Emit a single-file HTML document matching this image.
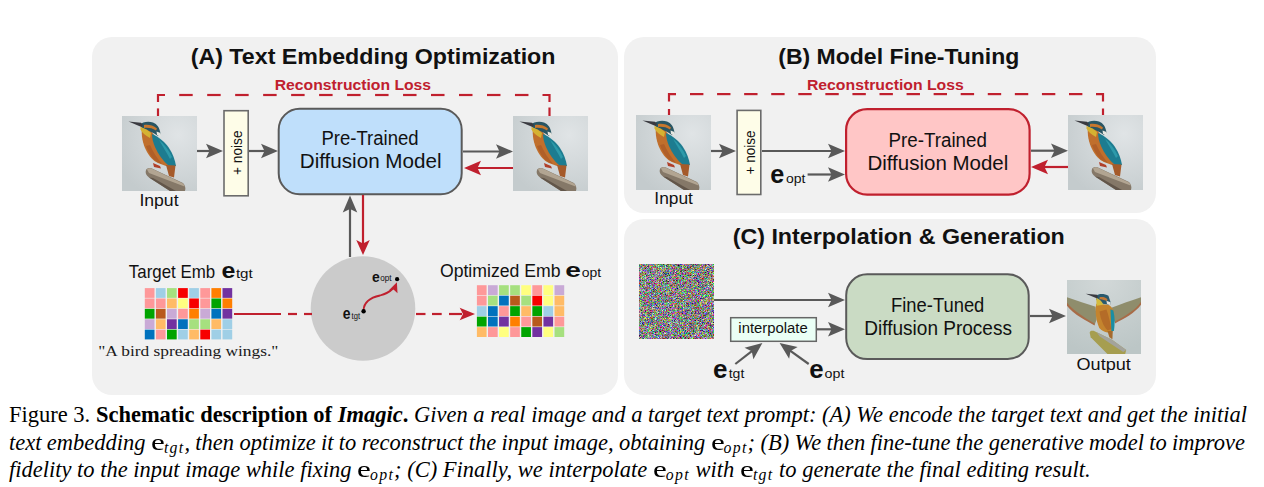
<!DOCTYPE html><html><head><meta charset='utf-8'><style>html,body{margin:0;padding:0;background:#fff;width:1264px;height:487px;overflow:hidden}svg{display:block}.m{display:inline-block;transform:scaleX(1.38);transform-origin:0 0;margin-right:3px}.s{font-size:15.75px;letter-spacing:1.3px;position:relative;top:3px}</style></head><body>
<svg width='1264' height='487' viewBox='0 0 1264 487'>
<defs>
<radialGradient id='bgsit' cx='0.75' cy='0.25' r='0.9'><stop offset='0' stop-color='#e0e4e6'/><stop offset='1' stop-color='#c4cbcd'/></radialGradient>
<radialGradient id='bgfly' cx='0.5' cy='0.0' r='1'><stop offset='0' stop-color='#d2d8d8'/><stop offset='1' stop-color='#bcc6c6'/></radialGradient>
<filter id='nz' x='0' y='0' width='100%' height='100%' filterUnits='objectBoundingBox' color-interpolation-filters='sRGB'><feTurbulence type='fractalNoise' baseFrequency='1.6' numOctaves='1' seed='7' result='t'/><feComponentTransfer><feFuncR type='linear' slope='2.1' intercept='-0.53'/><feFuncG type='linear' slope='2.1' intercept='-0.53'/><feFuncB type='linear' slope='2.1' intercept='-0.53'/><feFuncA type='linear' slope='0' intercept='1'/></feComponentTransfer></filter>

<symbol id='birdsit' viewBox='0 0 75 75'>
 <rect width='75' height='75' fill='url(#bgsit)'/>
 <path d='M24,54 C25,52 28,51.5 30,52.5 L61,67 C63,69 64,72 63,75 L48,75 L27,61.5 C24,59.5 23,56.5 24,54 Z' fill='#857868'/>
 <path d='M25,53.5 C26,52.3 28,52 30,52.8 L61,67.5 C62,68.5 62.5,69.5 62.5,70.5 L27,57 Z' fill='#b2a592'/>
 <path d='M48,75 L27,61.5 L31,62 L54,75 Z' fill='#62564a'/>
 <path d='M20,12 C19,20 21,28 24,34 C27,40 31,45 36,47 L44,50 L50,50 L46,42 C42,34 37,26 33,20 L28,14 Z' fill='#c06f2c'/>
 <path d='M24,30 C27,38 31,44 36,46.5 L40,48 C35,42 31,36 28,29 Z' fill='#b05f28'/>
 <path d='M30,18 C37,21 43,26 47,32 C51,38 53,44 54,50 L47,50 C41,45 36,38 33,31 C31,26 30,22 30,18 Z' fill='#1d7c90'/>
 <path d='M37,24 C42,28 47,34 50,41 L48,43 C45,37 41,31 37,24 Z' fill='#2d9aaa'/>
 <path d='M44,49 L53.5,49.5 L52,61.5 L47,60 Z' fill='#a55a2a'/>
 <path d='M31,47 L38,50 L39,52.5 L32,51 Z' fill='#b0402a'/>
 <path d='M18,9 C20,6 26,5 31,6.5 C35,8 38,12 38.5,18 L36,20 C32,17 26,14 20,12 Z' fill='#2a5663'/>
 <path d='M22,9 C26,8.5 31,9 35,12.5 L34,14.5 C30,12 26,11.5 22,12 Z' fill='#c8782e'/>
 <path d='M18.5,11 C22,12 26,14 29,17 L28,22 C24,20 20,17 18.5,13.5 Z' fill='#d5b232'/>
 <path d='M34.6,15.4 L38.5,17 L38.5,20.8 L35,19 Z' fill='#e6e6e0'/>
 <path d='M6.5,5.5 L19,6.8 L21,9 L19.5,11 Z' fill='#3a3a40'/>
</symbol>

<symbol id='birdfly' viewBox='0 0 75 75'>
 <rect width='75' height='75' fill='url(#bgfly)'/>
 <path d='M23,53.5 C23,51.5 25,51 27,51.5 L45.6,60.5 L60,71 L59,75 L41,75 L24,58 Z' fill='#a69e50'/>
 <path d='M30,53 L45.6,60.5 L60,71 L57,73 L42,63 L33,57 Z' fill='#a3a39c'/>
 <path d='M29,27 C20,24.5 10,21 0,17.5 L0,25 C4,29 9,33 15,37 C20,40.5 24,43 28,45.5 L30,40 Z' fill='#8f8d6c'/>
 <path d='M0,23 C4,28 9,32 15,36 C20,39.5 24,42 28,44 L28,46 C24,44 19,41 14,38 C8,34 3,30 0,26 Z' fill='#a86c48'/>
 <path d='M45,28 C54,25 64,21 75,17.5 L75,24 C72,28 68,31 63,34.5 C58,38 53,40.5 48.6,43 L46,38 Z' fill='#8f8d6c'/>
 <path d='M75,22 C72,27 68,30 63,33.5 C58,37 53,40 48.6,42 L48.6,44 C53,41.5 58,39 63,36 C68,32.5 72,29 75,25 Z' fill='#a86c48'/>
 <path d='M29.6,24 C28.5,32 29,40 32.7,48.6 C35,51 38,53 41,53.2 L46.4,51.7 C48,46 48,38 47,31 C46,28 44,26 42,25 Z' fill='#c4842e'/>
 <path d='M33,32 C34,40 37,47 41,51 L45,50 C44,43 42,36 40,30 Z' fill='#b46c28'/>
 <path d='M44,29.6 L47,31 C48.6,38 48.6,45 47.5,51.7 L45,51.7 Z' fill='#1a8ea4'/>
 <path d='M41,51.7 L46.4,51.7 L46,60 L43,58 Z' fill='#a56a2c'/>
 <path d='M29.6,16 C32,13.7 38,13.7 42,16 L44,22 L44,25 L36,24 L29.6,20 Z' fill='#2a5a6e'/>
 <path d='M33,17.5 C36,17 39,17.5 41,19.5 L40.5,21.3 C37,20 35,19.5 33,19.5 Z' fill='#c07838'/>
 <path d='M29.6,18 C32,19 35,21 37,25 L30,26 Z' fill='#d4bb3e'/>
 <path d='M40,21 L44,22.5 L44,25.5 L40.5,24 Z' fill='#e8e4dc'/>
 <path d='M19,14 L30.4,15 L31.5,17.5 L30,18.5 Z' fill='#3a3a40'/>
</symbol>
</defs>
<rect x='92' y='37' width='526' height='358' rx='20' fill='#f1f1f1'/>
<rect x='624' y='37' width='532' height='176' rx='20' fill='#f1f1f1'/>
<rect x='624' y='219' width='532' height='176' rx='20' fill='#f1f1f1'/>
<text x='190.65' y='64.00' font-family='Liberation Sans' font-weight='bold' font-style='normal' font-size='22.2' fill='#111' textLength='364.84' lengthAdjust='spacingAndGlyphs'>(A) Text Embedding Optimization</text>
<text x='778.26' y='63.70' font-family='Liberation Sans' font-weight='bold' font-style='normal' font-size='22.2' fill='#111' textLength='241.11' lengthAdjust='spacingAndGlyphs'>(B) Model Fine-Tuning</text>
<text x='732.65' y='244.20' font-family='Liberation Sans' font-weight='bold' font-style='normal' font-size='22.2' fill='#111' textLength='332.18' lengthAdjust='spacingAndGlyphs'>(C) Interpolation &amp; Generation</text>
<text x='274.77' y='89.70' font-family='Liberation Sans' font-weight='bold' font-style='normal' font-size='15.2' fill='#c0202e' textLength='156.30' lengthAdjust='spacingAndGlyphs'>Reconstruction Loss</text>
<text x='806.96' y='89.80' font-family='Liberation Sans' font-weight='bold' font-style='normal' font-size='15.2' fill='#c0202e' textLength='156.80' lengthAdjust='spacingAndGlyphs'>Reconstruction Loss</text>
<path d='M158,102 V95 H165' fill='none' stroke='#c0202e' stroke-width='2.2'/>
<line x1='158' y1='108.4' x2='158' y2='116' stroke='#c0202e' stroke-width='2.2'/>
<line x1='179.20' y1='95' x2='192.70' y2='95' stroke='#c0202e' stroke-width='2.2'/><line x1='207.18' y1='95' x2='220.68' y2='95' stroke='#c0202e' stroke-width='2.2'/><line x1='235.16' y1='95' x2='248.66' y2='95' stroke='#c0202e' stroke-width='2.2'/><line x1='263.14' y1='95' x2='276.64' y2='95' stroke='#c0202e' stroke-width='2.2'/><line x1='291.12' y1='95' x2='304.62' y2='95' stroke='#c0202e' stroke-width='2.2'/><line x1='319.10' y1='95' x2='332.60' y2='95' stroke='#c0202e' stroke-width='2.2'/><line x1='347.08' y1='95' x2='360.58' y2='95' stroke='#c0202e' stroke-width='2.2'/><line x1='375.06' y1='95' x2='388.56' y2='95' stroke='#c0202e' stroke-width='2.2'/><line x1='403.04' y1='95' x2='416.54' y2='95' stroke='#c0202e' stroke-width='2.2'/><line x1='431.02' y1='95' x2='444.52' y2='95' stroke='#c0202e' stroke-width='2.2'/><line x1='459.00' y1='95' x2='472.50' y2='95' stroke='#c0202e' stroke-width='2.2'/><line x1='486.98' y1='95' x2='500.48' y2='95' stroke='#c0202e' stroke-width='2.2'/><line x1='514.96' y1='95' x2='528.46' y2='95' stroke='#c0202e' stroke-width='2.2'/>
<path d='M542.5,95 H549.5 V102' fill='none' stroke='#c0202e' stroke-width='2.2'/>
<line x1='549.5' y1='107.5' x2='549.5' y2='116' stroke='#c0202e' stroke-width='2.2'/>
<path d='M669,101.5 V94.1 H676' fill='none' stroke='#c0202e' stroke-width='2.2'/>
<line x1='669' y1='109' x2='669' y2='115' stroke='#c0202e' stroke-width='2.2'/>
<line x1='690.00' y1='94.1' x2='703.40' y2='94.1' stroke='#c0202e' stroke-width='2.2'/><line x1='717.07' y1='94.1' x2='730.47' y2='94.1' stroke='#c0202e' stroke-width='2.2'/><line x1='744.14' y1='94.1' x2='757.54' y2='94.1' stroke='#c0202e' stroke-width='2.2'/><line x1='771.21' y1='94.1' x2='784.61' y2='94.1' stroke='#c0202e' stroke-width='2.2'/><line x1='798.28' y1='94.1' x2='811.68' y2='94.1' stroke='#c0202e' stroke-width='2.2'/><line x1='825.35' y1='94.1' x2='838.75' y2='94.1' stroke='#c0202e' stroke-width='2.2'/><line x1='852.42' y1='94.1' x2='865.82' y2='94.1' stroke='#c0202e' stroke-width='2.2'/><line x1='879.49' y1='94.1' x2='892.89' y2='94.1' stroke='#c0202e' stroke-width='2.2'/><line x1='906.56' y1='94.1' x2='919.96' y2='94.1' stroke='#c0202e' stroke-width='2.2'/><line x1='933.63' y1='94.1' x2='947.03' y2='94.1' stroke='#c0202e' stroke-width='2.2'/><line x1='960.70' y1='94.1' x2='974.10' y2='94.1' stroke='#c0202e' stroke-width='2.2'/><line x1='987.77' y1='94.1' x2='1001.17' y2='94.1' stroke='#c0202e' stroke-width='2.2'/><line x1='1014.84' y1='94.1' x2='1028.24' y2='94.1' stroke='#c0202e' stroke-width='2.2'/><line x1='1041.91' y1='94.1' x2='1055.31' y2='94.1' stroke='#c0202e' stroke-width='2.2'/><line x1='1068.98' y1='94.1' x2='1082.38' y2='94.1' stroke='#c0202e' stroke-width='2.2'/>
<path d='M1096,94.1 H1103 V101.5' fill='none' stroke='#c0202e' stroke-width='2.2'/>
<line x1='1103' y1='108.5' x2='1103' y2='115' stroke='#c0202e' stroke-width='2.2'/>
<use href='#birdsit' x='122' y='116' width='75' height='75'/>
<use href='#birdsit' x='513' y='116' width='75' height='75'/>
<use href='#birdsit' x='636' y='115' width='75' height='75'/>
<use href='#birdsit' x='1068' y='115' width='75' height='75'/>
<use href='#birdfly' x='1067' y='280' width='74' height='74'/>
<rect x='639' y='264' width='75' height='75' fill='#888' filter='url(#nz)'/>
<rect x='224' y='110.7' width='24.2' height='85.1' fill='#fefde8' stroke='#6b6b6b' stroke-width='1.6'/>
<rect x='737.1' y='110.4' width='23.7' height='84.1' fill='#fefde8' stroke='#6b6b6b' stroke-width='1.6'/>
<text transform='translate(241.5,175) rotate(-90)' font-family='Liberation Sans' font-size='14.5' fill='#111' textLength='44.5' lengthAdjust='spacingAndGlyphs'>+ noise</text>
<text transform='translate(754.5,174.5) rotate(-90)' font-family='Liberation Sans' font-size='14.5' fill='#111' textLength='44' lengthAdjust='spacingAndGlyphs'>+ noise</text>
<rect x='278.7' y='108.7' width='183' height='85.6' rx='21' fill='#bfdffb' stroke='#5a5a5a' stroke-width='2'/>
<rect x='846.1' y='109.1' width='183.5' height='85.6' rx='21' fill='#ffc6c6' stroke='#c0202e' stroke-width='2.2'/>
<rect x='846.2' y='274.3' width='182.5' height='84.8' rx='21' fill='#cadbc4' stroke='#5a5a5a' stroke-width='2'/>
<rect x='730.7' y='317.7' width='85.6' height='23.6' fill='#eafff5' stroke='#666' stroke-width='1.5'/>
<text x='321.47' y='144.80' font-family='Liberation Sans' font-weight='normal' font-style='normal' font-size='20.0' fill='#111' textLength='97.12' lengthAdjust='spacingAndGlyphs'>Pre-Trained</text>
<text x='299.77' y='167.80' font-family='Liberation Sans' font-weight='normal' font-style='normal' font-size='20.0' fill='#111' textLength='141.76' lengthAdjust='spacingAndGlyphs'>Diffusion Model</text>
<text x='888.54' y='146.90' font-family='Liberation Sans' font-weight='normal' font-style='normal' font-size='19.5' fill='#111' textLength='98.35' lengthAdjust='spacingAndGlyphs'>Pre-Trained</text>
<text x='867.45' y='170.40' font-family='Liberation Sans' font-weight='normal' font-style='normal' font-size='19.5' fill='#111' textLength='140.85' lengthAdjust='spacingAndGlyphs'>Diffusion Model</text>
<text x='891.06' y='311.90' font-family='Liberation Sans' font-weight='normal' font-style='normal' font-size='19.5' fill='#111' textLength='93.28' lengthAdjust='spacingAndGlyphs'>Fine-Tuned</text>
<text x='864.32' y='335.20' font-family='Liberation Sans' font-weight='normal' font-style='normal' font-size='19.5' fill='#111' textLength='147.64' lengthAdjust='spacingAndGlyphs'>Diffusion Process</text>
<text x='139.40' y='206.00' font-family='Liberation Sans' font-weight='normal' font-style='normal' font-size='16.0' fill='#111' textLength='39.15' lengthAdjust='spacingAndGlyphs'>Input</text>
<text x='654.32' y='204.40' font-family='Liberation Sans' font-weight='normal' font-style='normal' font-size='16.0' fill='#111' textLength='38.54' lengthAdjust='spacingAndGlyphs'>Input</text>
<text x='1076.54' y='369.60' font-family='Liberation Sans' font-weight='normal' font-style='normal' font-size='17.0' fill='#111' textLength='54.31' lengthAdjust='spacingAndGlyphs'>Output</text>
<text x='738.34' y='333.40' font-family='Liberation Sans' font-weight='normal' font-style='normal' font-size='14.0' fill='#111' textLength='69.38' lengthAdjust='spacingAndGlyphs'>interpolate</text>
<text x='128.80' y='278.00' font-family='Liberation Sans' font-weight='normal' font-style='normal' font-size='19.0' fill='#111' textLength='86.34' lengthAdjust='spacingAndGlyphs'>Target Emb</text>
<text x='439.92' y='276.60' font-family='Liberation Sans' font-weight='normal' font-style='normal' font-size='18.0' fill='#111' textLength='120.61' lengthAdjust='spacingAndGlyphs'>Optimized Emb</text>
<text x='221.49' y='278.00' font-family='Liberation Sans' font-weight='bold' font-style='normal' font-size='22.5' fill='#111' textLength='13.88' lengthAdjust='spacingAndGlyphs'>e</text>
<text x='235.90' y='278.00' font-family='Liberation Sans' font-weight='normal' font-style='normal' font-size='13.0' fill='#111' textLength='16.85' lengthAdjust='spacingAndGlyphs'>tgt</text>
<text x='565.26' y='276.60' font-family='Liberation Sans' font-weight='bold' font-style='normal' font-size='21.0' fill='#111' textLength='15.66' lengthAdjust='spacingAndGlyphs'>e</text>
<text x='581.70' y='276.60' font-family='Liberation Sans' font-weight='normal' font-style='normal' font-size='13.0' fill='#111' textLength='19.38' lengthAdjust='spacingAndGlyphs'>opt</text>
<text x='98.24' y='355.60' font-family='Liberation Serif' font-weight='normal' font-style='normal' font-size='15.0' fill='#1a1a1a' textLength='180.13' lengthAdjust='spacingAndGlyphs'>"A bird spreading wings."</text>
<line x1='197.00' y1='151.00' x2='210.50' y2='151.00' stroke='#595959' stroke-width='2.2'/><path d='M223.00,151.00 L206.00,158.25 L209.50,151.00 L206.00,143.75 Z' fill='#595959'/>
<line x1='249.00' y1='151.00' x2='265.50' y2='151.00' stroke='#595959' stroke-width='2.2'/><path d='M278.00,151.00 L261.00,158.25 L264.50,151.00 L261.00,143.75 Z' fill='#595959'/>
<line x1='463.00' y1='151.50' x2='500.50' y2='151.50' stroke='#595959' stroke-width='2.2'/><path d='M513.00,151.50 L496.00,158.75 L499.50,151.50 L496.00,144.25 Z' fill='#595959'/>
<line x1='513.00' y1='168.00' x2='476.50' y2='168.00' stroke='#c0202e' stroke-width='2.2'/><path d='M464.00,168.00 L481.00,160.75 L477.50,168.00 L481.00,175.25 Z' fill='#c0202e'/>
<line x1='350.00' y1='257.00' x2='350.00' y2='207.90' stroke='#595959' stroke-width='2.2'/><path d='M350.00,195.40 L357.25,212.40 L350.00,208.90 L342.75,212.40 Z' fill='#595959'/>
<line x1='363.00' y1='195.00' x2='363.00' y2='244.50' stroke='#c0202e' stroke-width='2.2'/><path d='M363.00,255.00 L356.25,240.00 L363.00,243.50 L369.75,240.00 Z' fill='#c0202e'/>
<rect x='144.80' y='288.10' width='9.70' height='9.78' fill='#fe9899'/><rect x='155.90' y='288.10' width='9.70' height='9.78' fill='#9fcfe6'/><rect x='167.00' y='288.10' width='9.70' height='9.78' fill='#a6e07f'/><rect x='178.10' y='288.10' width='9.70' height='9.78' fill='#f70000'/><rect x='189.20' y='288.10' width='9.70' height='9.78' fill='#9fcfe6'/><rect x='200.30' y='288.10' width='9.70' height='9.78' fill='#fe9899'/><rect x='211.40' y='288.10' width='9.70' height='9.78' fill='#ff7f00'/><rect x='222.50' y='288.10' width='9.70' height='9.78' fill='#7232a0'/><rect x='144.80' y='298.48' width='9.70' height='9.78' fill='#fe9899'/><rect x='155.90' y='298.48' width='9.70' height='9.78' fill='#fe9899'/><rect x='167.00' y='298.48' width='9.70' height='9.78' fill='#ffbb66'/><rect x='178.10' y='298.48' width='9.70' height='9.78' fill='#ffff80'/><rect x='189.20' y='298.48' width='9.70' height='9.78' fill='#f70000'/><rect x='200.30' y='298.48' width='9.70' height='9.78' fill='#fe9899'/><rect x='211.40' y='298.48' width='9.70' height='9.78' fill='#00a400'/><rect x='222.50' y='298.48' width='9.70' height='9.78' fill='#ff7f00'/><rect x='144.80' y='308.86' width='9.70' height='9.78' fill='#00a400'/><rect x='155.90' y='308.86' width='9.70' height='9.78' fill='#b85a1c'/><rect x='167.00' y='308.86' width='9.70' height='9.78' fill='#c9aad6'/><rect x='178.10' y='308.86' width='9.70' height='9.78' fill='#fe9899'/><rect x='189.20' y='308.86' width='9.70' height='9.78' fill='#ff7f00'/><rect x='200.30' y='308.86' width='9.70' height='9.78' fill='#c9aad6'/><rect x='211.40' y='308.86' width='9.70' height='9.78' fill='#0172bd'/><rect x='222.50' y='308.86' width='9.70' height='9.78' fill='#7232a0'/><rect x='144.80' y='319.24' width='9.70' height='9.78' fill='#c9aad6'/><rect x='155.90' y='319.24' width='9.70' height='9.78' fill='#ffbb66'/><rect x='167.00' y='319.24' width='9.70' height='9.78' fill='#7232a0'/><rect x='178.10' y='319.24' width='9.70' height='9.78' fill='#0172bd'/><rect x='189.20' y='319.24' width='9.70' height='9.78' fill='#a6e07f'/><rect x='200.30' y='319.24' width='9.70' height='9.78' fill='#a6e07f'/><rect x='211.40' y='319.24' width='9.70' height='9.78' fill='#ffbb66'/><rect x='222.50' y='319.24' width='9.70' height='9.78' fill='#9fcfe6'/><rect x='144.80' y='329.62' width='9.70' height='9.78' fill='#0172bd'/><rect x='155.90' y='329.62' width='9.70' height='9.78' fill='#fe9899'/><rect x='167.00' y='329.62' width='9.70' height='9.78' fill='#00a400'/><rect x='178.10' y='329.62' width='9.70' height='9.78' fill='#9fcfe6'/><rect x='189.20' y='329.62' width='9.70' height='9.78' fill='#ffbb66'/><rect x='200.30' y='329.62' width='9.70' height='9.78' fill='#f70000'/><rect x='211.40' y='329.62' width='9.70' height='9.78' fill='#9fcfe6'/><rect x='222.50' y='329.62' width='9.70' height='9.78' fill='#9fcfe6'/>
<rect x='476.90' y='285.20' width='9.69' height='9.88' fill='#fe9899'/><rect x='487.99' y='285.20' width='9.69' height='9.88' fill='#c9aad6'/><rect x='499.08' y='285.20' width='9.69' height='9.88' fill='#a6e07f'/><rect x='510.16' y='285.20' width='9.69' height='9.88' fill='#a6e07f'/><rect x='521.25' y='285.20' width='9.69' height='9.88' fill='#ffff80'/><rect x='532.34' y='285.20' width='9.69' height='9.88' fill='#fe9899'/><rect x='543.43' y='285.20' width='9.69' height='9.88' fill='#ffff80'/><rect x='554.51' y='285.20' width='9.69' height='9.88' fill='#c9aad6'/><rect x='476.90' y='295.68' width='9.69' height='9.88' fill='#fe9899'/><rect x='487.99' y='295.68' width='9.69' height='9.88' fill='#a6e07f'/><rect x='499.08' y='295.68' width='9.69' height='9.88' fill='#0172bd'/><rect x='510.16' y='295.68' width='9.69' height='9.88' fill='#b85a1c'/><rect x='521.25' y='295.68' width='9.69' height='9.88' fill='#a6e07f'/><rect x='532.34' y='295.68' width='9.69' height='9.88' fill='#f70000'/><rect x='543.43' y='295.68' width='9.69' height='9.88' fill='#ffff80'/><rect x='554.51' y='295.68' width='9.69' height='9.88' fill='#ffbb66'/><rect x='476.90' y='306.16' width='9.69' height='9.88' fill='#9fcfe6'/><rect x='487.99' y='306.16' width='9.69' height='9.88' fill='#0172bd'/><rect x='499.08' y='306.16' width='9.69' height='9.88' fill='#fe9899'/><rect x='510.16' y='306.16' width='9.69' height='9.88' fill='#00a400'/><rect x='521.25' y='306.16' width='9.69' height='9.88' fill='#ffbb66'/><rect x='532.34' y='306.16' width='9.69' height='9.88' fill='#00a400'/><rect x='543.43' y='306.16' width='9.69' height='9.88' fill='#9fcfe6'/><rect x='554.51' y='306.16' width='9.69' height='9.88' fill='#ffbb66'/><rect x='476.90' y='316.64' width='9.69' height='9.88' fill='#00a400'/><rect x='487.99' y='316.64' width='9.69' height='9.88' fill='#0172bd'/><rect x='499.08' y='316.64' width='9.69' height='9.88' fill='#7232a0'/><rect x='510.16' y='316.64' width='9.69' height='9.88' fill='#ff7f00'/><rect x='521.25' y='316.64' width='9.69' height='9.88' fill='#fe9899'/><rect x='532.34' y='316.64' width='9.69' height='9.88' fill='#b85a1c'/><rect x='543.43' y='316.64' width='9.69' height='9.88' fill='#7232a0'/><rect x='554.51' y='316.64' width='9.69' height='9.88' fill='#fe9899'/><rect x='476.90' y='327.12' width='9.69' height='9.88' fill='#ffbb66'/><rect x='487.99' y='327.12' width='9.69' height='9.88' fill='#fe9899'/><rect x='499.08' y='327.12' width='9.69' height='9.88' fill='#ffff80'/><rect x='510.16' y='327.12' width='9.69' height='9.88' fill='#fe9899'/><rect x='521.25' y='327.12' width='9.69' height='9.88' fill='#00a400'/><rect x='532.34' y='327.12' width='9.69' height='9.88' fill='#7232a0'/><rect x='543.43' y='327.12' width='9.69' height='9.88' fill='#ffff80'/><rect x='554.51' y='327.12' width='9.69' height='9.88' fill='#a6e07f'/>
<line x1='234' y1='314' x2='281' y2='314' stroke='#c0202e' stroke-width='2.2'/>
<line x1='288' y1='314' x2='297' y2='314' stroke='#c0202e' stroke-width='2.2'/>
<circle cx='363' cy='308.5' r='52.3' fill='#cbcbcb'/>
<line x1='304' y1='314' x2='312' y2='314' stroke='#c0202e' stroke-width='2.2'/>
<line x1='416' y1='314' x2='425.5' y2='314' stroke='#c0202e' stroke-width='2.2'/>
<line x1='432' y1='314' x2='441.7' y2='314' stroke='#c0202e' stroke-width='2.2'/>
<line x1='449' y1='314' x2='462' y2='314' stroke='#c0202e' stroke-width='2.2'/>
<path d='M475,314 L459.7,307.7 L463,314 L459.7,320.3 Z' fill='#c0202e'/>
<path d='M363.6,310 C364,301 371,297.5 380,295.5 C386,294 390,291.5 393,288.5' fill='none' stroke='#c0202e' stroke-width='1.8'/>
<path d='M396.9,282.2 L388.9,290.2 L393.5,289.6 L397.5,293.3 Z' fill='#c0202e'/>
<circle cx='397.1' cy='279.2' r='2.1' fill='#000'/>
<circle cx='363.6' cy='311.2' r='2.2' fill='#000'/>
<line x1='711.00' y1='151.00' x2='723.50' y2='151.00' stroke='#595959' stroke-width='2.2'/><path d='M736.00,151.00 L719.00,158.25 L722.50,151.00 L719.00,143.75 Z' fill='#595959'/>
<line x1='762.00' y1='151.00' x2='832.50' y2='151.00' stroke='#595959' stroke-width='2.2'/><path d='M845.00,151.00 L828.00,158.25 L831.50,151.00 L828.00,143.75 Z' fill='#595959'/>
<line x1='807.60' y1='174.50' x2='832.50' y2='174.50' stroke='#595959' stroke-width='2.2'/><path d='M845.00,174.50 L828.00,181.75 L831.50,174.50 L828.00,167.25 Z' fill='#595959'/>
<line x1='1031.00' y1='150.70' x2='1055.50' y2='150.70' stroke='#595959' stroke-width='2.2'/><path d='M1068.00,150.70 L1051.00,157.95 L1054.50,150.70 L1051.00,143.45 Z' fill='#595959'/>
<line x1='1068.00' y1='167.00' x2='1043.50' y2='167.00' stroke='#c0202e' stroke-width='2.2'/><path d='M1031.00,167.00 L1048.00,159.75 L1044.50,167.00 L1048.00,174.25 Z' fill='#c0202e'/>
<line x1='714.00' y1='300.00' x2='832.50' y2='300.00' stroke='#595959' stroke-width='2.2'/><path d='M845.00,300.00 L828.00,307.25 L831.50,300.00 L828.00,292.75 Z' fill='#595959'/>
<line x1='817.00' y1='329.30' x2='832.50' y2='329.30' stroke='#595959' stroke-width='2.2'/><path d='M845.00,329.30 L828.00,336.55 L831.50,329.30 L828.00,322.05 Z' fill='#595959'/>
<line x1='1030.00' y1='316.00' x2='1053.50' y2='316.00' stroke='#595959' stroke-width='2.2'/><path d='M1066.00,316.00 L1049.00,323.25 L1052.50,316.00 L1049.00,308.75 Z' fill='#595959'/>
<line x1='735.30' y1='364.00' x2='752.52' y2='350.66' stroke='#595959' stroke-width='2.2'/><path d='M762.40,343.00 L753.40,359.14 L751.73,351.27 L744.52,347.68 Z' fill='#595959'/>
<line x1='808.70' y1='364.00' x2='789.74' y2='350.31' stroke='#595959' stroke-width='2.2'/><path d='M779.60,343.00 L797.63,347.07 L790.55,350.90 L789.14,358.83 Z' fill='#595959'/>
<text x='770.23' y='182.60' font-family='Liberation Sans' font-weight='bold' font-style='normal' font-size='26' fill='#111' textLength='14.02' lengthAdjust='spacingAndGlyphs'>e</text>
<text x='785.90' y='182.50' font-family='Liberation Sans' font-weight='normal' font-style='normal' font-size='13' fill='#111' textLength='19.48' lengthAdjust='spacingAndGlyphs'>opt</text>
<text x='712.90' y='378.00' font-family='Liberation Sans' font-weight='bold' font-style='normal' font-size='26' fill='#111' textLength='14.47' lengthAdjust='spacingAndGlyphs'>e</text>
<text x='728.70' y='377.80' font-family='Liberation Sans' font-weight='normal' font-style='normal' font-size='13' fill='#111' textLength='15.61' lengthAdjust='spacingAndGlyphs'>tgt</text>
<text x='809.21' y='378.40' font-family='Liberation Sans' font-weight='bold' font-style='normal' font-size='26' fill='#111' textLength='14.36' lengthAdjust='spacingAndGlyphs'>e</text>
<text x='824.60' y='378.30' font-family='Liberation Sans' font-weight='normal' font-style='normal' font-size='13' fill='#111' textLength='19.79' lengthAdjust='spacingAndGlyphs'>opt</text>
<text x='372.00' y='281.60' font-family='Liberation Sans' font-weight='bold' font-style='normal' font-size='15.5' fill='#111' textLength='7.76' lengthAdjust='spacingAndGlyphs'>e</text>
<text x='380.20' y='281.40' font-family='Liberation Sans' font-weight='normal' font-style='normal' font-size='9' fill='#111' textLength='11.36' lengthAdjust='spacingAndGlyphs'>opt</text>
<text x='342.70' y='318.80' font-family='Liberation Sans' font-weight='bold' font-style='normal' font-size='16.5' fill='#111' textLength='7.76' lengthAdjust='spacingAndGlyphs'>e</text>
<text x='351.60' y='318.60' font-family='Liberation Sans' font-weight='normal' font-style='normal' font-size='9' fill='#111' textLength='8.41' lengthAdjust='spacingAndGlyphs'>tgt</text>
</svg>
<div style="position:absolute;left:9px;top:0;width:1236px;font-family:'Liberation Serif',serif;font-size:22.5px;line-height:27.5px;color:#000">
<div style="position:absolute;left:0;top:401px;width:1236px;text-align:justify;text-align-last:justify;white-space:nowrap">Figure 3. <b>Schematic description of <i>Imagic</i>.</b> <i>Given a real image and a target text prompt: (A) We encode the target text and get the initial</i></div>
<div style="position:absolute;left:0;top:428.5px;width:1236px;text-align:justify;text-align-last:justify;white-space:nowrap;word-spacing:-1px"><i>text embedding </i><span class="m">e</span><i class="s">tgt</i><i>, then optimize it to reconstruct the input image, obtaining </i><span class="m">e</span><i class="s">opt</i><i>; (B) We then fine-tune the generative model to improve</i></div>
<div style="position:absolute;left:0;top:456px;white-space:nowrap"><i>fidelity to the input image while fixing </i><span class="m">e</span><i class="s">opt</i><i>; (C) Finally, we interpolate </i><span class="m">e</span><i class="s">opt</i><i> with </i><span class="m">e</span><i class="s">tgt</i><i> to generate the final editing result.</i></div>
</div>
</body></html>
